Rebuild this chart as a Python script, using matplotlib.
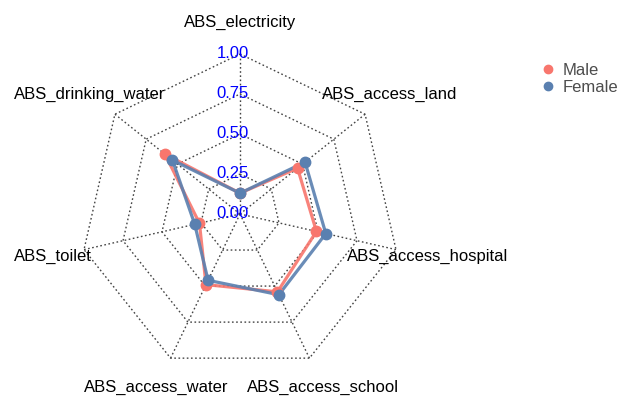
import numpy as np
import matplotlib
matplotlib.use("Agg")
import matplotlib.pyplot as plt
from matplotlib.lines import Line2D

plt.rcParams['font.family'] = ['Liberation Sans', 'DejaVu Sans']

# Axes of the radar, clockwise from the top
categories = ["ABS_electricity", "ABS_access_land", "ABS_access_hospital",
              "ABS_access_school", "ABS_access_water", "ABS_toilet",
              "ABS_drinking_water"]
male = [0.13, 0.46, 0.49, 0.54, 0.49, 0.26, 0.60]
female = [0.13, 0.52, 0.55, 0.56, 0.46, 0.29, 0.54]
grid_levels = [0.25, 0.50, 0.75, 1.00]
tick_labels = ["0.00", "0.25", "0.50", "0.75", "1.00"]
series_names = ["Male", "Female"]
series_colors = ["#F8766D", "#5A80B0"]

W, H, DPI = 622, 396, 100
fig = plt.figure(figsize=(W / DPI, H / DPI), dpi=DPI)
ax = fig.add_axes([0, 0, 1, 1])
scale = 160.0          # pixels per unit radius
cx, cy = 240.0, 214.0  # centre of the radar in pixels
ax.set_xlim(-cx / scale, (W - cx) / scale)
ax.set_ylim(-(H - cy) / scale, cy / scale)
ax.set_aspect('equal')
ax.axis('off')

n = len(categories)
angles = np.arange(n) * 2 * np.pi / n  # clockwise from top


def to_xy(r, a):
    return np.asarray(r) * np.sin(a), np.asarray(r) * np.cos(a)


grid_kw = dict(color="#444444", lw=1.0, linestyle=(0, (1.2, 1.8)), zorder=1)
# spokes
for a in angles:
    x, y = to_xy([0, 1.0], a)
    ax.plot(x, y, **grid_kw)
# rings
for lev in grid_levels:
    aa = np.append(angles, angles[0])
    x, y = to_xy(np.full(aa.shape, lev), aa)
    ax.plot(x, y, **grid_kw)

# radial tick labels
for i, lab in enumerate(tick_labels):
    ax.text(-0.045, i * 0.25, lab, color="blue", fontsize=12,
            ha="center", va="center", zorder=5)

# category labels
for lab, a in zip(categories, angles):
    x, y = to_xy(1.2, a)
    ax.text(x, y, lab, fontsize=12, color="black", ha="center", va="center")

# data
for name, vals, col in zip(series_names, [male, female], series_colors):
    aa = np.append(angles, angles[0])
    vv = np.append(vals, vals[0])
    x, y = to_xy(vv, aa)
    ax.plot(x, y, color=col, lw=2.3, alpha=0.9, zorder=3,
            solid_joinstyle='round')
    ax.plot(x[:-1], y[:-1], 'o', color=col, ms=7.5, zorder=4)

handles = [Line2D([], [], marker='o', linestyle='none', color=c, ms=6)
           for c in series_colors]
leg = fig.legend(handles, series_names, loc="upper left",
                 bbox_to_anchor=(531 / W, 1 - 56 / H), frameon=False,
                 fontsize=12, handletextpad=0.3, labelspacing=0.15,
                 handlelength=1.2, borderaxespad=0)
for t in leg.get_texts():
    t.set_color("#4D4D4D")

fig.savefig("out.png", dpi=DPI)
